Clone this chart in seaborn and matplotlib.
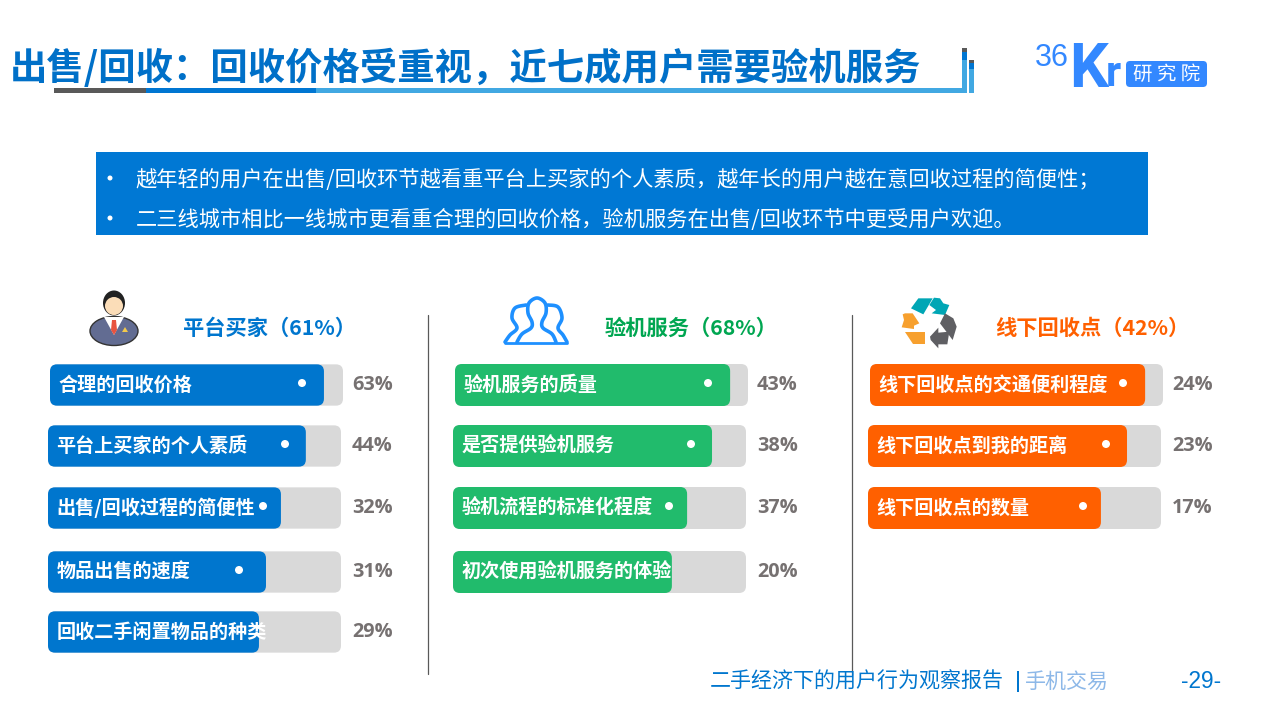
import matplotlib
matplotlib.use('Agg')
import matplotlib.pyplot as plt
import numpy as np
import seaborn as sns
from matplotlib.patches import FancyBboxPatch, Rectangle, Polygon, Ellipse

sns.set_theme(style='white')
plt.rcParams['font.family'] = ['Noto Sans CJK SC', 'DejaVu Sans']

# data
title = '出售/回收：回收价格受重视，近七成用户需要验机服务'
note_lines = ['越年轻的用户在出售/回收环节越看重平台上买家的个人素质，越年长的用户越在意回收过程的简便性；',
              '二三线城市相比一线城市更看重合理的回收价格，验机服务在出售/回收环节中更受用户欢迎。']

buyer_title = '平台买家（61%）'
buyer_labels = ['合理的回收价格', '平台上买家的个人素质', '出售/回收过程的简便性', '物品出售的速度', '回收二手闲置物品的种类']
buyer_values = [63, 44, 32, 31, 29]
buyer_fill = [93.5, 88.0, 79.5, 74.4, 72.0]   # drawn length, % of the grey track

check_title = '验机服务（68%）'
check_labels = ['验机服务的质量', '是否提供验机服务', '验机流程的标准化程度', '初次使用验机服务的体验']
check_values = [43, 38, 37, 20]
check_fill = [93.9, 88.4, 79.9, 74.7]

offline_title = '线下回收点（42%）'
offline_labels = ['线下回收点的交通便利程度', '线下回收点到我的距离', '线下回收点的数量']
offline_values = [24, 23, 17]
offline_fill = [93.9, 88.4, 79.5]

# layout, in pixels
row_y = [385, 446, 508, 572, 632]
row_h = 42
track_w = 293
BLUE = '#0076CE'
GREEN = '#21BB6C'
ORANGE = '#FF6000'
GREY = '#D9D9D9'
LOGO = '#3388FF'

fig = plt.figure(figsize=(12.8, 7.2), dpi=100, facecolor='white')


def rounded_bars(ax, nudge, r=7):
    # seaborn draws square bars, swap each one for a rounded box of the same size
    k = track_w / 100
    for p in list(ax.patches):
        x, y, w, h, c = p.get_x(), p.get_y(), p.get_width(), p.get_height(), p.get_facecolor()
        first = abs(y + h / 2 - row_y[0]) < 1
        p.remove()
        ax.add_patch(FancyBboxPatch((x + (nudge / k if first else 0), y), w, h,
                                    boxstyle='round,pad=0,rounding_size=%.3f' % (r / k),
                                    mutation_aspect=k, fc=c, ec='none', lw=0, clip_on=False))


def panel(left, fill, color):
    ax = fig.add_axes([left / 1280, 0, track_w / 1280, 1])
    rows = row_y[:len(fill)]
    sns.barplot(x=[100] * len(fill), y=rows, orient='y', native_scale=True,
                width=row_h / 61, color=GREY, saturation=1, ax=ax)
    sns.barplot(x=fill, y=rows, orient='y', native_scale=True,
                width=row_h / 61, color=color, saturation=1, ax=ax)
    rounded_bars(ax, 2)
    ax.set_xlim(0, 100)
    ax.set_ylim(720, 0)
    ax.axis('off')
    return ax


panel(48, buyer_fill, BLUE)
panel(453, check_fill, GREEN)
panel(868, offline_fill, ORANGE)

# pixel overlay for texts and decoration
ov = fig.add_axes([0, 0, 1, 1], zorder=5)
ov.set_xlim(0, 1280)
ov.set_ylim(720, 0)
ov.axis('off')
ov.patch.set_alpha(0)


def rect(x0, y0, x1, y1, c):
    ov.add_patch(Rectangle((x0, y0), x1 - x0, y1 - y0, fc=c, ec='none', lw=0))


def smooth(pts, n=8):
    # catmull-rom through the outline points, only used for the icon
    p = np.array([pts[0]] + list(pts) + [pts[-1]], dtype=float)
    out = []
    for i in range(1, len(p) - 2):
        for t in np.linspace(0, 1, n, endpoint=False):
            out.append(0.5 * (2 * p[i] + (p[i + 1] - p[i - 1]) * t
                              + (2 * p[i - 1] - 5 * p[i] + 4 * p[i + 1] - p[i + 2]) * t ** 2
                              + (3 * p[i] - p[i - 1] - 3 * p[i + 1] + p[i + 2]) * t ** 3))
    out.append(p[-1])
    return np.array(out)


# header
ov.text(9.5, 68.5, title, fontsize=26.9, fontweight='bold', color='#0070C8', va='center', ha='left')
rect(54, 88, 146, 93, '#595959')
rect(146, 88, 316, 93, '#0076D2')
rect(316, 88, 967, 93, '#41A8E2')
rect(962, 48, 967, 92, '#41A8E2')
rect(962, 52, 967, 60, '#0076D2')
rect(962, 48, 967, 52, '#595959')
rect(969, 60, 974, 93, '#41A8E2')
rect(969, 63, 974, 69, '#0076D2')
rect(969, 60, 974, 63, '#595959')

# logo
ov.text(1035, 66, '36', fontsize=22, family='Liberation Sans', color=LOGO, va='baseline', ha='left')
ov.text(1069, 87, 'K', fontsize=44, family='Roboto', fontweight='bold', color=LOGO, va='baseline', ha='left')
ov.text(1106, 86, 'r', fontsize=30, family='Roboto', fontweight='bold', color=LOGO, va='baseline', ha='left')
ov.add_patch(FancyBboxPatch((1126, 61), 81, 26, boxstyle='round,pad=0,rounding_size=4', fc=LOGO, ec='none'))
ov.text(1167, 74, '研 究 院', fontsize=14, color='white', va='center', ha='center')

# note box
rect(96, 152, 1148, 235, '#0078D4')
for y, line in zip([178, 218], note_lines):
    ov.add_patch(Ellipse((110, y), 5, 5, fc='white', ec='none'))
    ov.text(135.5, y + 1.5, line, fontsize=15.27, color='white', va='center', ha='left')

# panel titles
ov.text(183, 328, buyer_title, fontsize=15.3, fontweight='bold', color=BLUE, va='center', ha='left')
ov.text(605, 328, check_title, fontsize=15.3, fontweight='bold', color='#00A651', va='center', ha='left')
ov.text(995, 328, offline_title, fontsize=15.3, fontweight='bold', color=ORANGE, va='center', ha='left')

# bar labels, values and the little dots
dots = [[302, 285, 263, 239], [708, 691, 669], [1123, 1106, 1083]]
for left, labels, values, ds in zip([48, 453, 868],
                                    [buyer_labels, check_labels, offline_labels],
                                    [buyer_values, check_values, offline_values], dots):
    for i, (lab, val) in enumerate(zip(labels, values)):
        shift = 2 if i == 0 else 0
        ov.text(left + 8.5 + shift, row_y[i], lab, fontsize=13.75, fontweight='bold', color='white', va='center', ha='left')
        ov.text(left + 304, row_y[i], '%d%%' % val, fontsize=14.3, family='Open Sans', fontweight='bold', color='#767171', va='center', ha='left')
    for i, x in enumerate(ds):
        ov.add_patch(Ellipse((x, row_y[i] - 2), 8, 8, fc='white', ec='none'))

# dividers
ov.plot([428, 428], [315, 674], color='#595959', lw=0.9)
ov.plot([852, 852], [315, 675], color='#595959', lw=0.9)

# person icon
ov.add_patch(Ellipse((114, 331), 48, 29, fc='#626C92', ec='#333333', lw=1))
ov.add_patch(Polygon([(104, 317), (124, 317), (114, 335)], fc='white', ec='none'))
ov.add_patch(Polygon([(112, 320), (116, 320), (117, 330), (114, 335), (111, 330)], fc='#E8533F', ec='none'))
ov.add_patch(Polygon([(122, 332), (128, 332), (125, 327)], fc='#F2C94C', ec='none'))
ov.add_patch(Ellipse((114, 303), 22, 25, fc='#222222', ec='none'))
ov.add_patch(Ellipse((114, 306), 18, 18, fc='#FBDDB8', ec='none'))

# people icon
people = '#1E90FF'
side_left = [(526, 305), (515, 308), (512, 318), (517, 328), (510, 335), (505, 342)]
side_right = [(548, 305), (558, 307), (562, 318), (558, 328), (563, 335), (567, 342)]
centre = [(517, 342), (522, 334), (531, 328), (532, 322), (528, 313), (529, 303), (537, 298),
          (545, 303), (546, 313), (542, 322), (543, 328), (552, 334), (556, 342)]
for pts in (side_left, side_right, centre):
    xy = smooth(pts)
    ov.plot(xy[:, 0], xy[:, 1], color=people, lw=2.6, solid_joinstyle='round', solid_capstyle='round')
ov.plot([505, 567], [342.5, 342.5], color=people, lw=2)


# recycle icon
def zp(pts):
    return [(890 + x / 3, 285 + y / 3) for x, y in pts]


for c, shapes in [('#00A6B5', [[(63, 70), (85, 40), (128, 40), (100, 88)],
                               [(118, 60), (132, 38), (150, 40), (160, 55), (178, 60), (165, 90), (125, 85), (138, 75)]]),
                  ('#F7A02E', [[(45, 85), (68, 85), (88, 115), (72, 122), (72, 132), (35, 127), (42, 105), (38, 88)],
                               [(45, 140), (105, 140), (105, 178), (70, 178)]]),
                  ('#5F5F63', [[(165, 85), (190, 100), (200, 125), (188, 165), (150, 115)],
                               [(120, 155), (145, 128), (145, 143), (178, 140), (172, 178), (145, 178), (145, 190), (122, 165)]])]:
    for s in shapes:
        ov.add_patch(Polygon(zp(s), fc=c, ec='none'))

# footer
ov.text(710, 682, '二手经济下的用户行为观察报告', fontsize=15.12, color='#0076CE', va='center', ha='left')
rect(1017, 671, 1019, 692, '#0076CE')
ov.text(1025, 682, '手机交易', fontsize=15.12, color='#8DB8E8', va='center', ha='left')
ov.text(1201, 681, '-29-', fontsize=16.3, family='Liberation Sans', color='#0076CE', va='center', ha='center')

fig.savefig('out.png', dpi=100)
